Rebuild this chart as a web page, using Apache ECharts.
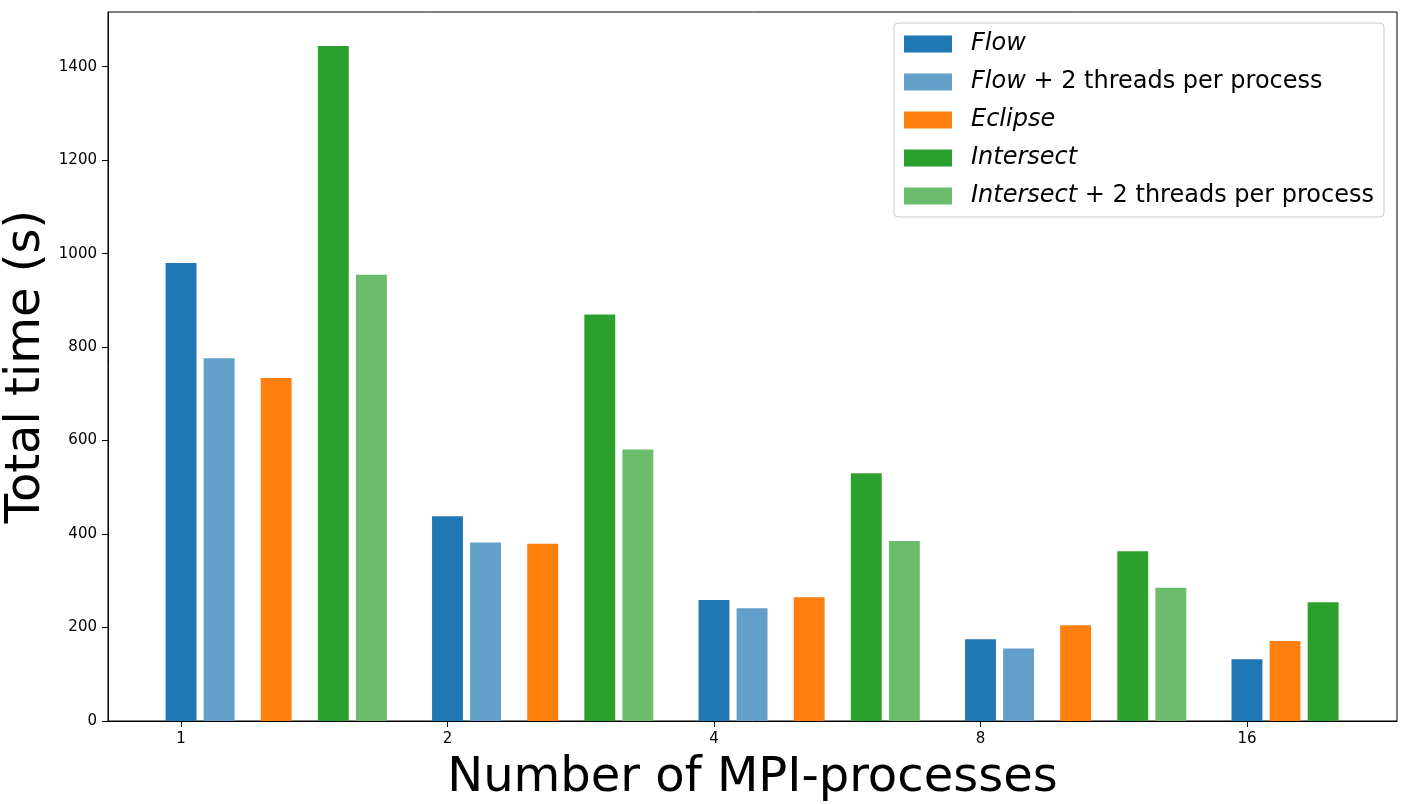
<!DOCTYPE html>
<html><head><meta charset="utf-8">
<script src="https://cdn.jsdelivr.net/npm/echarts@6/dist/echarts.min.js"></script>
<style>html,body{margin:0;padding:0;background:#fff}#c{width:1411px;height:804px}</style>
</head><body><div id="c"></div>
<script>
// ---- data ----
const categories = ['1', '2', '4', '8', '16'];
const flow = [980, 438, 259, 175, 132];
const flowThreads = [776, 382, 241, 155, null];
const eclipse = [734, 379, 265, 205, 171];
const intersect = [1444, 870, 530, 363, 254];
const intersectThreads = [955, 581, 385, 285, null];
const yTicks = [0, 200, 400, 600, 800, 1000, 1200, 1400];
const seriesNames = ['Flow', 'Flow + 2 threads per process', 'Eclipse', 'Intersect', 'Intersect + 2 threads per process'];
const seriesValues = [flow, flowThreads, eclipse, intersect, intersectThreads];
const colors = ['#1f77b4', '#62a0ca', '#ff7f0e', '#2ca02c', '#6bbc6b'];

// ---- layout (slot offsets within a group, in group units) ----
const SLOT = 1 / 7;
const slotsFull = [0, 1, 2.5, 4, 5];
const slotsShort = [0, null, 1, 2, null];
const BAR_W = 0.116;
const FONT = 'DejaVu Sans';

const series = seriesNames.map((name, s) => {
  const data = [];
  seriesValues[s].forEach((v, g) => {
    if (v == null) return;
    const slots = flowThreads[g] == null ? slotsShort : slotsFull;
    data.push([g + slots[s] * SLOT, v]);
  });
  return {
    type: 'custom',
    name: name,
    itemStyle: { color: colors[s] },
    encode: { x: 0, y: 1 },
    data: data,
    renderItem: (params, api) => {
      const x = api.value(0), y = api.value(1);
      const top = api.coord([x, y]);
      const base = api.coord([x, 0]);
      const w = api.size([BAR_W, 0])[0];
      return {
        type: 'rect',
        shape: { x: top[0] - w / 2, y: top[1], width: w, height: base[1] - top[1] },
        style: { fill: api.visual('color') }
      };
    }
  };
});

const chart = echarts.init(document.getElementById('c'));
chart.setOption({
  animation: false,
  backgroundColor: '#fff',
  grid: { left: 108, right: 14, top: 12, bottom: 83, containLabel: false, outerBoundsMode: 'none',
    show: true, borderColor: '#000', borderWidth: 1, backgroundColor: 'transparent' },
  xAxis: {
    type: 'value', min: -0.274, max: 4.563,
    name: 'Number of MPI-processes', nameLocation: 'middle', nameGap: 34,
    nameTextStyle: { fontFamily: FONT, fontSize: 48, color: '#000' },
    axisLine: { show: true, onZero: false, lineStyle: { color: '#000', width: 1 } },
    splitLine: { show: false },
    axisTick: { show: true, inside: false, length: 6, lineStyle: { color: '#000' }, customValues: categories.map((c, i) => i) },
    axisLabel: { fontFamily: FONT, fontSize: 15, color: '#000', margin: 11,
      customValues: categories.map((c, i) => i),
      formatter: v => categories[Math.round(v)] }
  },
  yAxis: {
    type: 'value', min: 0, max: 1517,
    name: 'Total time (s)', nameLocation: 'middle', nameGap: 57, nameMoveOverlap: false,
    nameTextStyle: { fontFamily: FONT, fontSize: 48, color: '#000' },
    axisLine: { show: true, onZero: false, lineStyle: { color: '#000', width: 1 } },
    splitLine: { show: false },
    axisTick: { show: true, inside: false, length: 6, lineStyle: { color: '#000' }, customValues: yTicks },
    axisLabel: { fontFamily: FONT, fontSize: 15, color: '#000', margin: 11, customValues: yTicks,
      formatter: v => String(v) }
  },
  legend: {
    orient: 'vertical', left: 894, top: 23,
    itemWidth: 48, itemHeight: 17, itemGap: 14, icon: 'rect',
    backgroundColor: 'rgba(255,255,255,0.8)', borderColor: '#cccccc', borderWidth: 1, borderRadius: 4,
    padding: [9, 10, 9, 10],
    data: seriesNames,
    formatter: name => {
      const idx = name.indexOf(' + ');
      if (idx < 0) return '{i|' + name + '}';
      return '{i|' + name.slice(0, idx) + '}{n|' + name.slice(idx) + '}';
    },
    textStyle: {
      fontFamily: FONT, fontSize: 24, color: '#000', padding: [0, 0, 0, 14],
      rich: {
        i: { fontFamily: FONT, fontSize: 24, fontStyle: 'italic', color: '#000', lineHeight: 28 },
        n: { fontFamily: FONT, fontSize: 24, color: '#000', lineHeight: 28 }
      }
    }
  },
  series: series
});
</script>
</body></html>
